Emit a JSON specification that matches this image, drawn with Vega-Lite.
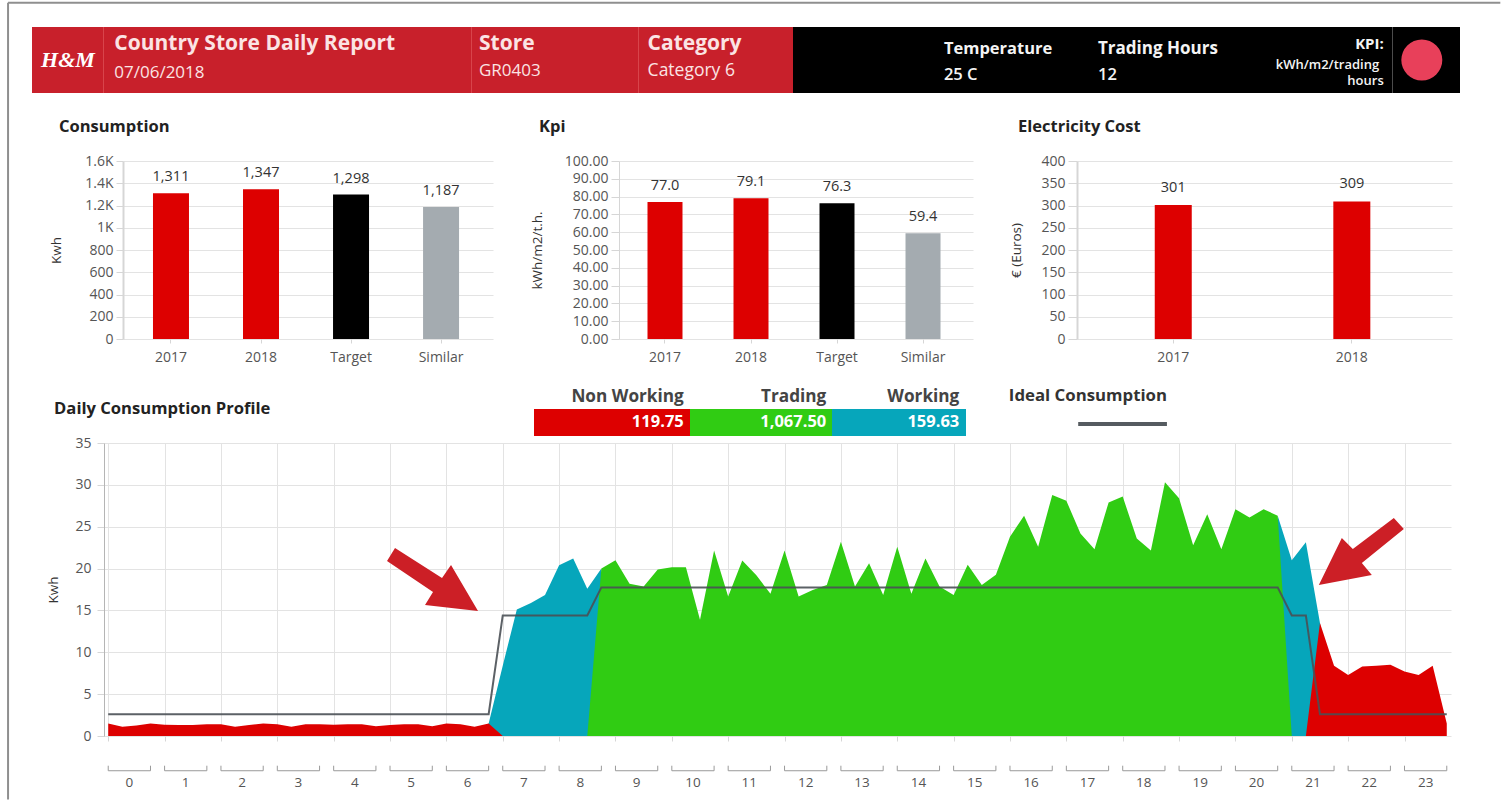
{"$schema":"https://vega.github.io/schema/vega-lite/v6.json","padding":{"left":7,"top":1,"right":0,"bottom":0},"background":"white","bounds":"flush","spacing":7,"config":{"font":"Open Sans","view":{"stroke":null},"axis":{"labelFont":"Open Sans","titleFont":"Open Sans","labelColor":"#555555","titleColor":"#333333","labelFontSize":14,"titleFontSize":13.5,"titleFontWeight":"normal","gridColor":"#e3e3e3","domainColor":"#d6d6d6","tickColor":"#d6d6d6"},"title":{"font":"Open Sans","fontSize":16.5,"fontWeight":"bold","color":"#222222"}},
"datasets":{
"profile":[
{"q":0,"nonWorking":1.5,"working":0,"trading":0,"ideal":2.6},{"q":1,"nonWorking":1.1,"working":0,"trading":0,"ideal":2.6},{"q":2,"nonWorking":1.25,"working":0,"trading":0,"ideal":2.6},{"q":3,"nonWorking":1.5,"working":0,"trading":0,"ideal":2.6},{"q":4,"nonWorking":1.35,"working":0,"trading":0,"ideal":2.6},{"q":5,"nonWorking":1.3,"working":0,"trading":0,"ideal":2.6},{"q":6,"nonWorking":1.3,"working":0,"trading":0,"ideal":2.6},{"q":7,"nonWorking":1.4,"working":0,"trading":0,"ideal":2.6},{"q":8,"nonWorking":1.4,"working":0,"trading":0,"ideal":2.6},{"q":9,"nonWorking":1.1,"working":0,"trading":0,"ideal":2.6},{"q":10,"nonWorking":1.3,"working":0,"trading":0,"ideal":2.6},{"q":11,"nonWorking":1.5,"working":0,"trading":0,"ideal":2.6},{"q":12,"nonWorking":1.4,"working":0,"trading":0,"ideal":2.6},{"q":13,"nonWorking":1.1,"working":0,"trading":0,"ideal":2.6},{"q":14,"nonWorking":1.4,"working":0,"trading":0,"ideal":2.6},{"q":15,"nonWorking":1.4,"working":0,"trading":0,"ideal":2.6},{"q":16,"nonWorking":1.35,"working":0,"trading":0,"ideal":2.6},{"q":17,"nonWorking":1.4,"working":0,"trading":0,"ideal":2.6},{"q":18,"nonWorking":1.4,"working":0,"trading":0,"ideal":2.6},{"q":19,"nonWorking":1.15,"working":0,"trading":0,"ideal":2.6},{"q":20,"nonWorking":1.3,"working":0,"trading":0,"ideal":2.6},{"q":21,"nonWorking":1.4,"working":0,"trading":0,"ideal":2.6},{"q":22,"nonWorking":1.4,"working":0,"trading":0,"ideal":2.6},{"q":23,"nonWorking":1.15,"working":0,"trading":0,"ideal":2.6},{"q":24,"nonWorking":1.5,"working":0,"trading":0,"ideal":2.6},{"q":25,"nonWorking":1.4,"working":0,"trading":0,"ideal":2.6},{"q":26,"nonWorking":1.1,"working":0,"trading":0,"ideal":2.6},{"q":27,"nonWorking":1.5,"working":1.5,"trading":0,"ideal":2.6},
{"q":28,"nonWorking":0,"working":8.4,"trading":0,"ideal":14.4},{"q":29,"nonWorking":0,"working":15.1,"trading":0,"ideal":14.4},{"q":30,"nonWorking":0,"working":15.9,"trading":0,"ideal":14.4},{"q":31,"nonWorking":0,"working":16.85,"trading":0,"ideal":14.4},{"q":32,"nonWorking":0,"working":20.4,"trading":0,"ideal":14.4},{"q":33,"nonWorking":0,"working":21.2,"trading":0,"ideal":14.4},{"q":34,"nonWorking":0,"working":17.6,"trading":0,"ideal":14.4},
{"q":35,"nonWorking":0,"working":20,"trading":20,"ideal":17.75},{"q":36,"nonWorking":0,"working":0,"trading":21,"ideal":17.75},{"q":37,"nonWorking":0,"working":0,"trading":18.2,"ideal":17.75},{"q":38,"nonWorking":0,"working":0,"trading":17.85,"ideal":17.75},{"q":39,"nonWorking":0,"working":0,"trading":19.9,"ideal":17.75},{"q":40,"nonWorking":0,"working":0,"trading":20.15,"ideal":17.75},{"q":41,"nonWorking":0,"working":0,"trading":20.15,"ideal":17.75},{"q":42,"nonWorking":0,"working":0,"trading":13.9,"ideal":17.75},{"q":43,"nonWorking":0,"working":0,"trading":22.15,"ideal":17.75},{"q":44,"nonWorking":0,"working":0,"trading":16.65,"ideal":17.75},{"q":45,"nonWorking":0,"working":0,"trading":20.95,"ideal":17.75},{"q":46,"nonWorking":0,"working":0,"trading":19.2,"ideal":17.75},{"q":47,"nonWorking":0,"working":0,"trading":17,"ideal":17.75},{"q":48,"nonWorking":0,"working":0,"trading":22.15,"ideal":17.75},{"q":49,"nonWorking":0,"working":0,"trading":16.65,"ideal":17.75},{"q":50,"nonWorking":0,"working":0,"trading":17.45,"ideal":17.75},{"q":51,"nonWorking":0,"working":0,"trading":18.05,"ideal":17.75},{"q":52,"nonWorking":0,"working":0,"trading":23.2,"ideal":17.75},{"q":53,"nonWorking":0,"working":0,"trading":17.85,"ideal":17.75},{"q":54,"nonWorking":0,"working":0,"trading":20.65,"ideal":17.75},{"q":55,"nonWorking":0,"working":0,"trading":16.85,"ideal":17.75},{"q":56,"nonWorking":0,"working":0,"trading":22.6,"ideal":17.75},{"q":57,"nonWorking":0,"working":0,"trading":17,"ideal":17.75},{"q":58,"nonWorking":0,"working":0,"trading":21.2,"ideal":17.75},{"q":59,"nonWorking":0,"working":0,"trading":17.85,"ideal":17.75},{"q":60,"nonWorking":0,"working":0,"trading":16.85,"ideal":17.75},{"q":61,"nonWorking":0,"working":0,"trading":20.45,"ideal":17.75},{"q":62,"nonWorking":0,"working":0,"trading":18.05,"ideal":17.75},{"q":63,"nonWorking":0,"working":0,"trading":19.25,"ideal":17.75},{"q":64,"nonWorking":0,"working":0,"trading":23.8,"ideal":17.75},{"q":65,"nonWorking":0,"working":0,"trading":26.3,"ideal":17.75},{"q":66,"nonWorking":0,"working":0,"trading":22.6,"ideal":17.75},{"q":67,"nonWorking":0,"working":0,"trading":28.8,"ideal":17.75},{"q":68,"nonWorking":0,"working":0,"trading":28.1,"ideal":17.75},{"q":69,"nonWorking":0,"working":0,"trading":24.2,"ideal":17.75},{"q":70,"nonWorking":0,"working":0,"trading":22.3,"ideal":17.75},{"q":71,"nonWorking":0,"working":0,"trading":27.9,"ideal":17.75},{"q":72,"nonWorking":0,"working":0,"trading":28.6,"ideal":17.75},{"q":73,"nonWorking":0,"working":0,"trading":23.6,"ideal":17.75},{"q":74,"nonWorking":0,"working":0,"trading":22.15,"ideal":17.75},{"q":75,"nonWorking":0,"working":0,"trading":30.3,"ideal":17.75},{"q":76,"nonWorking":0,"working":0,"trading":28.4,"ideal":17.75},{"q":77,"nonWorking":0,"working":0,"trading":22.8,"ideal":17.75},{"q":78,"nonWorking":0,"working":0,"trading":26.5,"ideal":17.75},{"q":79,"nonWorking":0,"working":0,"trading":22.3,"ideal":17.75},{"q":80,"nonWorking":0,"working":0,"trading":27.1,"ideal":17.75},{"q":81,"nonWorking":0,"working":0,"trading":26.1,"ideal":17.75},{"q":82,"nonWorking":0,"working":0,"trading":27.1,"ideal":17.75},{"q":83,"nonWorking":0,"working":26.3,"trading":26.3,"ideal":17.75},
{"q":84,"nonWorking":0,"working":21,"trading":0,"ideal":14.4},{"q":85,"nonWorking":0,"working":23.15,"trading":0,"ideal":14.4},{"q":86,"nonWorking":13.5,"working":13.5,"trading":0,"ideal":2.6},{"q":87,"nonWorking":8.4,"working":0,"trading":0,"ideal":2.6},{"q":88,"nonWorking":7.3,"working":0,"trading":0,"ideal":2.6},{"q":89,"nonWorking":8.3,"working":0,"trading":0,"ideal":2.6},{"q":90,"nonWorking":8.4,"working":0,"trading":0,"ideal":2.6},{"q":91,"nonWorking":8.5,"working":0,"trading":0,"ideal":2.6},{"q":92,"nonWorking":7.7,"working":0,"trading":0,"ideal":2.6},{"q":93,"nonWorking":7.3,"working":0,"trading":0,"ideal":2.6},{"q":94,"nonWorking":8.4,"working":0,"trading":0,"ideal":2.6},{"q":95,"nonWorking":1.5,"working":0,"trading":0,"ideal":2.6}],
"hours":[{"hour":0,"start":0,"mid":1.5,"end":3},{"hour":1,"start":4,"mid":5.5,"end":7},{"hour":2,"start":8,"mid":9.5,"end":11},{"hour":3,"start":12,"mid":13.5,"end":15},{"hour":4,"start":16,"mid":17.5,"end":19},{"hour":5,"start":20,"mid":21.5,"end":23},{"hour":6,"start":24,"mid":25.5,"end":27},{"hour":7,"start":28,"mid":29.5,"end":31},{"hour":8,"start":32,"mid":33.5,"end":35},{"hour":9,"start":36,"mid":37.5,"end":39},{"hour":10,"start":40,"mid":41.5,"end":43},{"hour":11,"start":44,"mid":45.5,"end":47},{"hour":12,"start":48,"mid":49.5,"end":51},{"hour":13,"start":52,"mid":53.5,"end":55},{"hour":14,"start":56,"mid":57.5,"end":59},{"hour":15,"start":60,"mid":61.5,"end":63},{"hour":16,"start":64,"mid":65.5,"end":67},{"hour":17,"start":68,"mid":69.5,"end":71},{"hour":18,"start":72,"mid":73.5,"end":75},{"hour":19,"start":76,"mid":77.5,"end":79},{"hour":20,"start":80,"mid":81.5,"end":83},{"hour":21,"start":84,"mid":85.5,"end":87},{"hour":22,"start":88,"mid":89.5,"end":91},{"hour":23,"start":92,"mid":93.5,"end":95}],
"consumption":[{"label":"2017","value":1311},{"label":"2018","value":1347},{"label":"Target","value":1298},{"label":"Similar","value":1187}],
"kpi":[{"label":"2017","value":77.0},{"label":"2018","value":79.1},{"label":"Target","value":76.3},{"label":"Similar","value":59.4}],
"cost":[{"label":"2017","value":301},{"label":"2018","value":309}],
"blank":[{"t":""}]
},
"vconcat":[
{"hconcat":[
{"width":72,"height":66,"view":{"fill":"#c8202b"},"data":{"values":[{"t":"H&M"}]},"layer":[
 {"mark":{"type":"text","font":"Liberation Serif","fontStyle":"italic","fontWeight":"bold","fontSize":22,"color":"white"},"encoding":{"text":{"field":"t"}}},
 {"mark":{"type":"rule","color":"#e8686c","strokeWidth":1},"encoding":{"x":{"datum":1,"type":"quantitative","scale":{"domain":[0,1]},"axis":null}}}]},
{"width":368,"height":66,"view":{"fill":"#c8202b"},"data":{"values":[{"title":"Country Store Daily Report","value":"07/06/2018"}]},"encoding":{"x":{"datum":0.028,"type":"quantitative","scale":{"domain":[0,1]},"axis":null}},"layer":[
 {"mark":{"type":"text","align":"left","fontWeight":"bold","fontSize":21,"color":"#fbe4e4"},"encoding":{"text":{"field":"title"},"y":{"datum":0.74,"type":"quantitative","scale":{"domain":[0,1]},"axis":null}}},
 {"mark":{"type":"text","align":"left","fontSize":17,"color":"#fbe4e4"},"encoding":{"text":{"field":"value"},"y":{"datum":0.31,"type":"quantitative","scale":{"domain":[0,1]},"axis":null}}},
 {"mark":{"type":"rule","color":"#e8686c","strokeWidth":1},"encoding":{"x":{"datum":1,"type":"quantitative"}}}]},
{"width":167,"height":66,"view":{"fill":"#c8202b"},"data":{"values":[{"title":"Store","value":"GR0403"}]},"encoding":{"x":{"datum":0.042,"type":"quantitative","scale":{"domain":[0,1]},"axis":null}},"layer":[
 {"mark":{"type":"text","align":"left","fontWeight":"bold","fontSize":21,"color":"#fbe4e4"},"encoding":{"text":{"field":"title"},"y":{"datum":0.74,"type":"quantitative","scale":{"domain":[0,1]},"axis":null}}},
 {"mark":{"type":"text","align":"left","fontSize":17,"color":"#fbe4e4"},"encoding":{"text":{"field":"value"},"y":{"datum":0.34,"type":"quantitative","scale":{"domain":[0,1]},"axis":null}}},
 {"mark":{"type":"rule","color":"#e8686c","strokeWidth":1},"encoding":{"x":{"datum":1,"type":"quantitative"}}}]},
{"width":154,"height":66,"view":{"fill":"#c8202b"},"data":{"values":[{"title":"Category","value":"Category 6"}]},"encoding":{"x":{"datum":0.056,"type":"quantitative","scale":{"domain":[0,1]},"axis":null}},"layer":[
 {"mark":{"type":"text","align":"left","fontWeight":"bold","fontSize":21,"color":"#fbe4e4"},"encoding":{"text":{"field":"title"},"y":{"datum":0.74,"type":"quantitative","scale":{"domain":[0,1]},"axis":null}}},
 {"mark":{"type":"text","align":"left","fontSize":17.5,"color":"#fbe4e4"},"encoding":{"text":{"field":"value"},"y":{"datum":0.34,"type":"quantitative","scale":{"domain":[0,1]},"axis":null}}}]},
{"width":150,"height":66,"view":{"fill":"#000000"},"data":{"name":"blank"},"mark":{"type":"text"},"encoding":{"text":{"field":"t"}}},
{"width":154,"height":66,"view":{"fill":"#000000"},"data":{"values":[{"title":"Temperature","value":"25 C"}]},"encoding":{"x":{"datum":0.006,"type":"quantitative","scale":{"domain":[0,1]},"axis":null}},"layer":[
 {"mark":{"type":"text","align":"left","fontWeight":"bold","fontSize":16.5,"color":"#f4f4f4"},"encoding":{"text":{"field":"title"},"y":{"datum":0.67,"type":"quantitative","scale":{"domain":[0,1]},"axis":null}}},
 {"mark":{"type":"text","align":"left","fontSize":16.5,"fontWeight":"600","color":"#f4f4f4"},"encoding":{"text":{"field":"value"},"y":{"datum":0.27,"type":"quantitative","scale":{"domain":[0,1]},"axis":null}}}]},
{"width":164,"height":66,"view":{"fill":"#000000"},"data":{"values":[{"title":"Trading Hours","value":"12"}]},"encoding":{"x":{"datum":0.006,"type":"quantitative","scale":{"domain":[0,1]},"axis":null}},"layer":[
 {"mark":{"type":"text","align":"left","fontWeight":"bold","fontSize":17,"color":"#f4f4f4"},"encoding":{"text":{"field":"title"},"y":{"datum":0.67,"type":"quantitative","scale":{"domain":[0,1]},"axis":null}}},
 {"mark":{"type":"text","align":"left","fontSize":16.5,"fontWeight":"600","color":"#f4f4f4"},"encoding":{"text":{"field":"value"},"y":{"datum":0.27,"type":"quantitative","scale":{"domain":[0,1]},"axis":null}}}]},
{"width":132,"height":66,"view":{"fill":"#000000"},"data":{"values":[{"title":"KPI:","line1":"kWh/m2/trading","line2":"hours"}]},"layer":[
 {"mark":{"type":"text","align":"right","fontWeight":"bold","fontSize":15,"color":"#f4f4f4"},"encoding":{"x":{"datum":0.93,"type":"quantitative","scale":{"domain":[0,1]},"axis":null},"text":{"field":"title"},"y":{"datum":0.74,"type":"quantitative","scale":{"domain":[0,1]},"axis":null}}},
 {"mark":{"type":"text","align":"right","fontSize":13,"fontWeight":"600","color":"#f4f4f4"},"encoding":{"x":{"datum":0.895,"type":"quantitative"},"text":{"field":"line1"},"y":{"datum":0.43,"type":"quantitative"}}},
 {"mark":{"type":"text","align":"right","fontSize":13,"fontWeight":"600","color":"#f4f4f4"},"encoding":{"x":{"datum":0.93,"type":"quantitative"},"text":{"field":"line2"},"y":{"datum":0.185,"type":"quantitative"}}},
 {"mark":{"type":"rule","color":"#666666","strokeWidth":1.5},"encoding":{"x":{"datum":1,"type":"quantitative"}}}]},
{"width":67,"height":66,"view":{"fill":"#000000"},"data":{"values":[{"status":"KPI status"}]},"mark":{"type":"point","filled":true,"size":1680,"color":"#e8405a","opacity":1},"encoding":{"x":{"datum":0.43,"type":"quantitative","scale":{"domain":[0,1]},"axis":null},"y":{"datum":0.5,"type":"quantitative","scale":{"domain":[0,1]},"axis":null}}}
],"spacing":0,"bounds":"flush"},
{"width":1,"height":120,"data":{"name":"blank"},"mark":{"type":"text"},"encoding":{"text":{"field":"t"}}},
{"hconcat":[
{"width":91,"height":178,"data":{"name":"blank"},"mark":{"type":"text"},"encoding":{"text":{"field":"t"}}},
{"width":370,"height":178,"data":{"name":"consumption"},"title":{"text":"Consumption","anchor":"start","frame":"group","dx":-64,"offset":19},"encoding":{"x":{"field":"label","type":"nominal","sort":null,"scale":{"type":"band","paddingInner":0,"paddingOuter":0.055,"align":0.3},"axis":{"title":null,"labelAngle":0,"grid":false,"domain":false,"tickSize":4,"labelPadding":7}},"y":{"field":"value","type":"quantitative","scale":{"domain":[0,1600],"nice":false},"axis":{"title":"Kwh","titleX":-60,"values":[0,200,400,600,800,1000,1200,1400,1600],"labelExpr":"datum.value>=1000 ? (datum.value/1000)+'K' : datum.value","grid":true,"tickSize":7,"labelPadding":3,"domainWidth":2}}},
"layer":[{"mark":{"type":"bar","width":36},"encoding":{"color":{"field":"label","type":"nominal","scale":{"domain":["2017","2018","Target","Similar"],"range":["#dd0000","#dd0000","#000000","#a4abb0"]},"legend":null}}},
{"mark":{"type":"text","baseline":"bottom","dy":-9,"fontSize":14.5,"color":"#333333"},"encoding":{"text":{"field":"value","type":"quantitative","format":",d"}}}]},
{"width":126,"height":178,"data":{"name":"blank"},"mark":{"type":"text"},"encoding":{"text":{"field":"t"}}},
{"width":354,"height":178,"data":{"name":"kpi"},"title":{"text":"Kpi","anchor":"start","frame":"group","dx":-80,"offset":19},"encoding":{"x":{"field":"label","type":"nominal","sort":null,"scale":{"type":"band","paddingInner":0,"paddingOuter":0.058,"align":0.3},"axis":{"title":null,"labelAngle":0,"grid":false,"domain":false,"tickSize":4,"labelPadding":7}},"y":{"field":"value","type":"quantitative","scale":{"domain":[0,100],"nice":false},"axis":{"title":"kWh/m2/t.h.","titleX":-75,"values":[0,10,20,30,40,50,60,70,80,90,100],"format":".2f","grid":true,"tickSize":8,"labelPadding":3,"domainWidth":1}}},
"layer":[{"mark":{"type":"bar","width":35},"encoding":{"color":{"field":"label","type":"nominal","scale":{"domain":["2017","2018","Target","Similar"],"range":["#dd0000","#dd0000","#000000","#a4abb0"]},"legend":null}}},
{"mark":{"type":"text","baseline":"bottom","dy":-9,"fontSize":14.5,"color":"#333333"},"encoding":{"text":{"field":"value","type":"quantitative","format":".1f"}}}]},
{"width":104,"height":178,"data":{"name":"blank"},"mark":{"type":"text"},"encoding":{"text":{"field":"t"}}},
{"width":375,"height":178,"data":{"name":"cost"},"title":{"text":"Electricity Cost","anchor":"start","frame":"group","dx":-59,"offset":19},"encoding":{"x":{"field":"label","type":"nominal","sort":null,"scale":{"type":"band","paddingInner":0,"paddingOuter":0.05,"align":0.39},"axis":{"title":null,"labelAngle":0,"grid":false,"domain":false,"tickSize":4,"labelPadding":7}},"y":{"field":"value","type":"quantitative","scale":{"domain":[0,400],"nice":false},"axis":{"title":"€ (Euros)","titleX":-54,"values":[0,50,100,150,200,250,300,350,400],"grid":true,"tickSize":9,"labelPadding":3,"domainWidth":2}}},
"layer":[{"mark":{"type":"bar","width":37,"color":"#dd0000"}},
{"mark":{"type":"text","baseline":"bottom","dy":-10,"fontSize":14.5,"color":"#333333"},"encoding":{"text":{"field":"value","type":"quantitative","format":"d"}}}]}
],"spacing":0,"bounds":"flush"},
{"width":1,"height":234,"data":{"name":"blank"},"mark":{"type":"text"},"encoding":{"text":{"field":"t"}}},
{"hconcat":[
{"width":502,"height":27,"data":{"values":[{"title":"Daily Consumption Profile"}]},"mark":{"type":"text","align":"left","fontWeight":"bold","fontSize":16.6,"color":"#222222"},"encoding":{"text":{"field":"title"},"x":{"datum":0.044,"type":"quantitative","scale":{"domain":[0,1]},"axis":null},"y":{"datum":1.0,"type":"quantitative","scale":{"domain":[0,1]},"axis":null}}},
{"width":156,"height":27,"view":{"fill":"#dd0000"},"data":{"values":[{"status":"Non Working","value":119.75}]},"encoding":{"x":{"datum":0.96,"type":"quantitative","scale":{"domain":[0,1]},"axis":null}},"layer":[
 {"mark":{"type":"text","align":"right","fontWeight":"bold","fontSize":17.2,"color":"#444444"},"encoding":{"text":{"field":"status"},"y":{"datum":1.44,"type":"quantitative","scale":{"domain":[0,1]},"axis":null}}},
 {"mark":{"type":"text","align":"right","fontWeight":"bold","fontSize":16.5,"color":"white"},"encoding":{"text":{"field":"value","type":"quantitative","format":",.2f"},"y":{"datum":0.52,"type":"quantitative","scale":{"domain":[0,1]},"axis":null}}}]},
{"width":142,"height":27,"view":{"fill":"#30cc13"},"data":{"values":[{"status":"Trading","value":1067.5}]},"encoding":{"x":{"datum":0.96,"type":"quantitative","scale":{"domain":[0,1]},"axis":null}},"layer":[
 {"mark":{"type":"text","align":"right","fontWeight":"bold","fontSize":17.2,"color":"#444444"},"encoding":{"text":{"field":"status"},"y":{"datum":1.44,"type":"quantitative","scale":{"domain":[0,1]},"axis":null}}},
 {"mark":{"type":"text","align":"right","fontWeight":"bold","fontSize":16.5,"color":"white"},"encoding":{"text":{"field":"value","type":"quantitative","format":",.2f"},"y":{"datum":0.52,"type":"quantitative","scale":{"domain":[0,1]},"axis":null}}}]},
{"width":134,"height":27,"view":{"fill":"#06a6bb"},"data":{"values":[{"status":"Working","value":159.63}]},"encoding":{"x":{"datum":0.95,"type":"quantitative","scale":{"domain":[0,1]},"axis":null}},"layer":[
 {"mark":{"type":"text","align":"right","fontWeight":"bold","fontSize":17.2,"color":"#444444"},"encoding":{"text":{"field":"status"},"y":{"datum":1.44,"type":"quantitative","scale":{"domain":[0,1]},"axis":null}}},
 {"mark":{"type":"text","align":"right","fontWeight":"bold","fontSize":16.5,"color":"white"},"encoding":{"text":{"field":"value","type":"quantitative","format":",.2f"},"y":{"datum":0.52,"type":"quantitative","scale":{"domain":[0,1]},"axis":null}}}]},
{"width":204,"height":27,"data":{"values":[{"series":"Ideal Consumption"}]},"layer":[
 {"mark":{"type":"text","align":"left","fontWeight":"bold","fontSize":16.8,"color":"#333333"},"encoding":{"text":{"field":"series"},"x":{"datum":0.21,"type":"quantitative","scale":{"domain":[0,1]},"axis":null},"y":{"datum":1.48,"type":"quantitative","scale":{"domain":[0,1]},"axis":null}}},
 {"mark":{"type":"rule","color":"#555b60","strokeWidth":4},"encoding":{"x":{"datum":0.55,"type":"quantitative"},"x2":{"datum":0.985},"y":{"datum":0.44,"type":"quantitative"}}}]}
],"spacing":0,"bounds":"flush"},
{"width":1,"height":20,"data":{"name":"blank"},"mark":{"type":"text"},"encoding":{"text":{"field":"t"}}},
{"hconcat":[
{"width":72,"height":293,"data":{"name":"blank"},"mark":{"type":"text"},"encoding":{"text":{"field":"t"}}},
{"width":1347,"height":293,"data":{"name":"profile"},"layer":[
 {"mark":{"type":"area","color":"#06a6bb"},"encoding":{"x":{"field":"q","type":"quantitative","scale":{"domain":[-0.3,95.3],"nice":false,"zero":false},"axis":{"title":null,"values":[0,2,4,6,8,10,12,14,16,18,20,22,24,26,28,30,32,34,36,38,40,42,44,46,48,50,52,54,56,58,60,62,64,66,68,70,72,74,76,78,80,82,84,86,88,90,92,94],"labels":false,"grid":true,"domain":false,"tickSize":5}},"y":{"field":"working","type":"quantitative","scale":{"domain":[0,35],"nice":false},"axis":{"title":"Kwh","titleX":-44,"values":[0,5,10,15,20,25,30,35],"grid":true,"tickSize":7,"labelPadding":6,"domainColor":"#b5b5b5","domainWidth":1}}}},
 {"mark":{"type":"area","color":"#30cc13"},"encoding":{"x":{"field":"q","type":"quantitative"},"y":{"field":"trading","type":"quantitative"}}},
 {"mark":{"type":"area","color":"#dd0000"},"encoding":{"x":{"field":"q","type":"quantitative"},"y":{"field":"nonWorking","type":"quantitative"}}},
 {"mark":{"type":"line","color":"#4a5055","strokeWidth":2,"opacity":0.9},"encoding":{"x":{"field":"q","type":"quantitative"},"y":{"field":"ideal","type":"quantitative"}}},
 {"data":{"name":"hours"},"mark":{"type":"rule","color":"#9a9a9a","strokeWidth":1},"encoding":{"x":{"field":"start","type":"quantitative"},"x2":{"field":"end"},"y":{"datum":-4.15,"type":"quantitative"}}},
 {"data":{"name":"hours"},"mark":{"type":"rule","color":"#9a9a9a","strokeWidth":1},"encoding":{"x":{"field":"start","type":"quantitative"},"y":{"datum":-4.15,"type":"quantitative"},"y2":{"datum":-3.55}}},
 {"data":{"name":"hours"},"mark":{"type":"rule","color":"#9a9a9a","strokeWidth":1},"encoding":{"x":{"field":"end","type":"quantitative"},"y":{"datum":-4.15,"type":"quantitative"},"y2":{"datum":-3.55}}},
 {"data":{"name":"hours"},"mark":{"type":"text","fontSize":13.5,"color":"#555555"},"encoding":{"x":{"field":"mid","type":"quantitative"},"y":{"datum":-5.6,"type":"quantitative"},"text":{"field":"hour","type":"nominal"}}},
 {"data":{"values":[{"note":"start of working hours","q":22.98,"kwh":18.28}]},"mark":{"type":"point","filled":true,"opacity":1,"color":"#cc1f26","size":10000,"shape":"M-.74 -.70L.2 -.1L.38 -.36L.92 .56L-.14 .44L.02 .18L-.9 -.44Z"},"encoding":{"x":{"field":"q","type":"quantitative"},"y":{"field":"kwh","type":"quantitative"}}},
 {"data":{"values":[{"note":"end of working hours","q":88.9,"kwh":22.1}]},"mark":{"type":"point","filled":true,"opacity":1,"color":"#cc1f26","size":10000,"shape":"M.66 -.66L-.16 -.04L-.38 -.26L-.84 .68L.22 .48L.02 .24L.86 -.44Z"},"encoding":{"x":{"field":"q","type":"quantitative"},"y":{"field":"kwh","type":"quantitative"}}},
 {"data":{"name":"blank"},"mark":{"type":"rule","color":"#8f8f8f","strokeWidth":2},"encoding":{"x":{"datum":-7.11,"type":"quantitative"},"y":{"datum":87.58,"type":"quantitative"},"y2":{"datum":-7.6}}},
 {"data":{"name":"blank"},"mark":{"type":"rule","color":"#8f8f8f","strokeWidth":2},"encoding":{"x":{"datum":-7.11,"type":"quantitative"},"x2":{"datum":98.8},"y":{"datum":87.58,"type":"quantitative"}}}
]}
],"spacing":0,"bounds":"flush"}
]}
